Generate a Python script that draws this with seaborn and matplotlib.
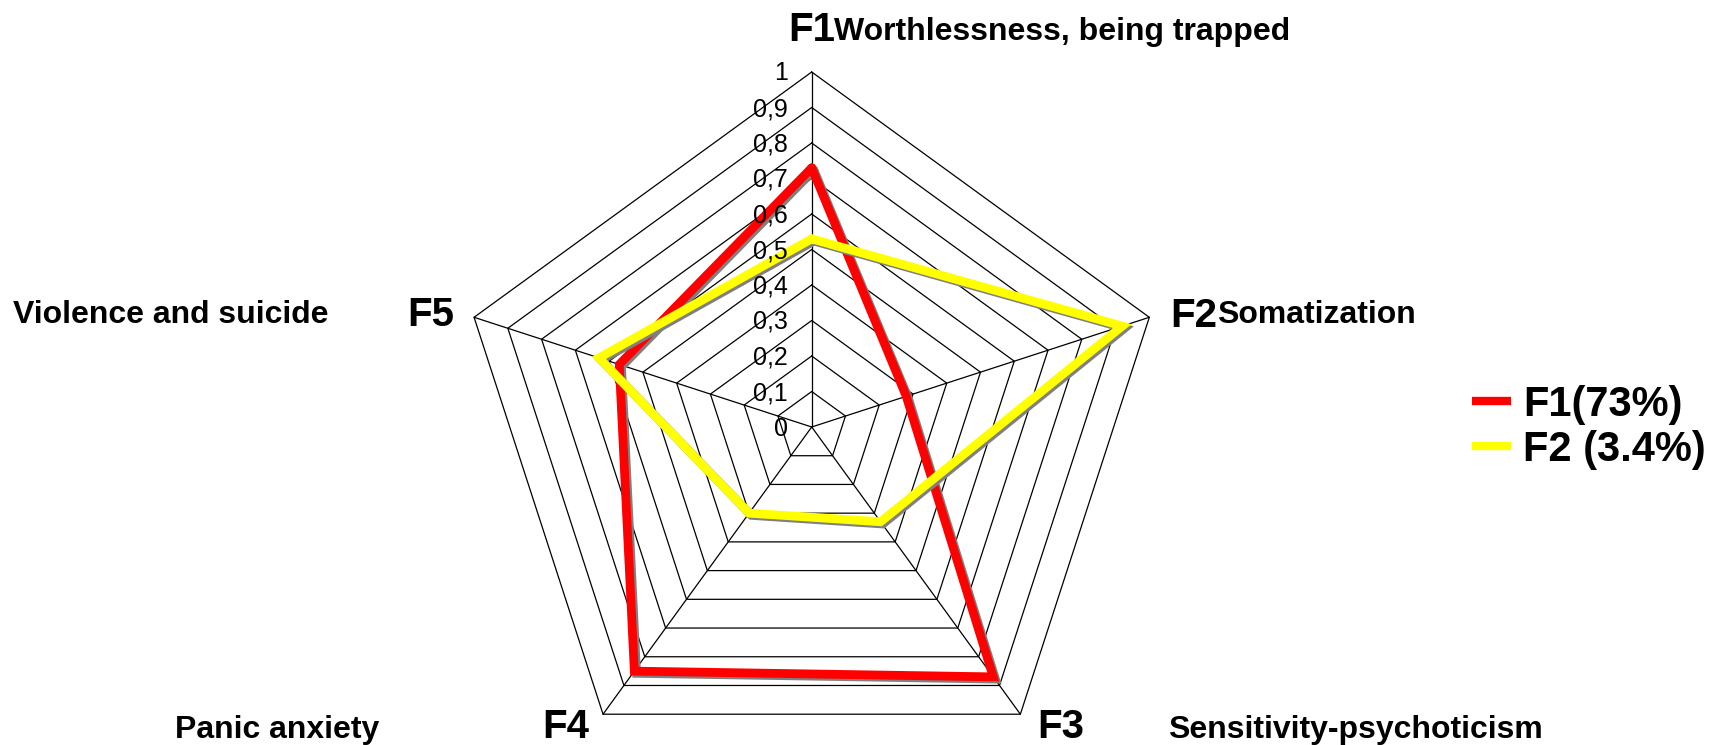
import numpy as np
import pandas as pd
import seaborn as sns
import matplotlib.pyplot as plt
import matplotlib.patheffects as pe
from matplotlib.lines import Line2D
from matplotlib.transforms import offset_copy

sns.set_style("white")
plt.rcParams["font.family"] = ["Liberation Sans", "DejaVu Sans"]
plt.rcParams["text.color"] = "black"

#%% data
factors = ["F1", "F2", "F3", "F4", "F5"]
names = ["Worthlessness, being trapped", "Somatization",
         "Sensitivity-psychoticism", "Panic anxiety", "Violence and suicide"]
f1_vals = [0.73, 0.28, 0.87, 0.85, 0.57]
f2_vals = [0.53, 0.92, 0.33, 0.30, 0.63]
series = ["F1(73%)", "F2 (3.4%)"]
colors = ["#ff0000", "#ffff00"]
rings = [0, 0.1, 0.2, 0.3, 0.4, 0.5, 0.6, 0.7, 0.8, 0.9, 1]
ring_labels = ["0", "0,1", "0,2", "0,3", "0,4", "0,5", "0,6", "0,7", "0,8", "0,9", "1"]

#%% long table, polygon closed with the first value at 2*pi
n = len(factors)
theta = [2 * np.pi * i / n for i in range(n + 1)]
rows = []
for name, vals in zip(series, [f1_vals, f2_vals]):
    for i in range(n + 1):
        rows.append({"series": name, "theta": theta[i], "value": vals[i % n]})
df = pd.DataFrame(rows)

#%%
W, H = 1710, 745
fig = plt.figure(figsize=(W / 100, H / 100), dpi=100, facecolor="white")
cx, cy, R = 811.7, 427.0, 355.0
ax = fig.add_axes([(cx - R) / W, (H - cy - R) / H, 2 * R / W, 2 * R / H], projection="polar")
ax.set_theta_offset(np.pi / 2)
ax.set_theta_direction(-1)
ax.patch.set_alpha(0)

# pentagon grid
for r in rings[1:]:
    ax.plot(theta, [r] * (n + 1), color="black", lw=0.9, zorder=1, clip_on=False)
for t in theta[:-1]:
    ax.plot([t, t], [0, 1], color="black", lw=0.9, zorder=1, clip_on=False)

sns.lineplot(
    data=df, x="theta", y="value", hue="series", palette=colors,
    sort=False, estimator=None, lw=6.3, legend=False, ax=ax, zorder=3,
    solid_joinstyle="miter",
    path_effects=[pe.SimpleLineShadow(offset=(1.6, -1.6), shadow_color="#808080", alpha=1),
                  pe.Normal()],
)
ax.set_ylim(0, 1)
ax.set_xticks([]); ax.set_yticks([])
ax.grid(False)
ax.spines["polar"].set_visible(False)
ax.set_xlabel(""); ax.set_ylabel("")

# radial tick labels along the top spoke
trans = offset_copy(ax.transData, fig=fig, x=-23.5, y=-8.5, units="dots")
for r, lab in zip(rings, ring_labels):
    ax.text(0, r, lab, transform=trans, ha="right", va="baseline", fontsize=18, color="black")

# category labels
def fx(px): return px / W
def fy(py): return 1 - py / H

f_pos = [(788, 41), (1170, 327), (1037, 738), (542, 738), (407, 326)]
n_pos = [(834, 40), (1217, 323), (1168, 738), (175, 738), (13, 323)]
for lab, (x, y) in zip(factors, f_pos):
    fig.text(fx(x), fy(y), lab, fontsize=29, fontweight="bold", ha="left", va="baseline")
for lab, (x, y) in zip(names, n_pos):
    fig.text(fx(x), fy(y), lab, fontsize=23, fontweight="bold", ha="left", va="baseline")

handles = [Line2D([], [], color=c, lw=6.0, solid_capstyle="butt") for c in colors]
fig.legend(handles, series, loc="upper left", bbox_to_anchor=(fx(1471.7), fy(385)),
           frameon=False, prop={"weight": "bold", "size": 30},
           handlelength=0.94, handletextpad=0.29, labelspacing=0.12,
           borderpad=0, borderaxespad=0)

plt.savefig("out.png", dpi=100, facecolor="white")
plt.close()
